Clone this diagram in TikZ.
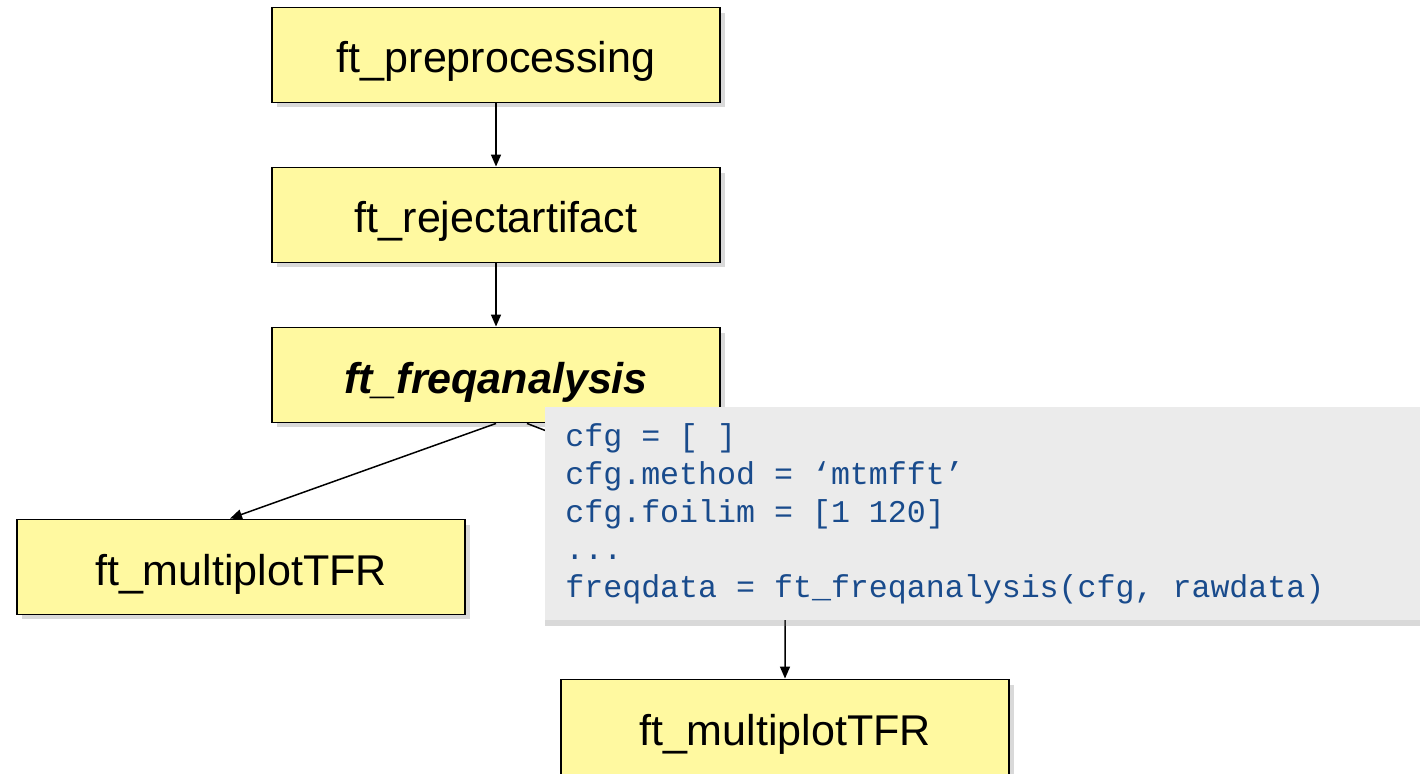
\documentclass[tikz,border=0pt]{standalone}
\usepackage{fontspec}
\setmainfont{Liberation Sans}
\setmonofont{Liberation Mono}
\usepackage{tikz}
\usetikzlibrary{arrows.meta,shadows}

\definecolor{boxyellow}{RGB}{255,249,160}
\definecolor{codegray}{RGB}{235,235,235}
\definecolor{codeblue}{RGB}{25,75,140}

\tikzset{
  ftbox/.style={draw=black, line width=1.1pt, fill=boxyellow,
    minimum width=8.96cm, minimum height=1.9cm,
    text height=0.72cm, text depth=0pt,
    font=\fontsize{24.5}{28}\selectfont,
    drop shadow={shadow xshift=0.1cm, shadow yshift=-0.1cm, opacity=0.3}},
  codebox/.style={fill=codegray, inner xsep=0.4cm, text width=16.7cm,
    minimum height=4.26cm, align=left, text=codeblue,
    font=\ttfamily\fontsize{18}{21.5}\selectfont,
    execute at begin node={\spaceskip=0pt\xspaceskip=0pt},
    drop shadow={shadow xshift=0cm, shadow yshift=-0.12cm, opacity=0.3}},
  flow/.style={line width=0.85pt, -{Triangle[length=0.24cm,width=0.2cm]}}
}

\begin{document}
\begin{tikzpicture}[x=0.02cm,y=-0.02cm]
\useasboundingbox (0,0) rectangle (1420,774);

\node[ftbox] (prep) at (496,55) {ft\_preprocessing};
\node[ftbox] (rej) at (496,215) {ft\_rejectartifact};
\node[ftbox, font=\fontsize{24.5}{28}\selectfont\bfseries\itshape] (freq) at (496,375) {ft\_freqanalysis};
\node[ftbox] (multl) at (241,567) {ft\_multiplotTFR};
\node[ftbox] (multr) at (785,727) {ft\_multiplotTFR};

\draw[flow] (prep) -- (rej);
\draw[flow] (rej) -- (freq);
\draw[flow] (freq.south) -- ([xshift=-0.22cm]multl.north);
% second branch runs behind the code panel
\draw[flow] ([xshift=0.62cm]freq.south) -- (785,523) -- (multr.north);

%\node[codebox] ... cfg panel on top
\node[codebox, anchor=north west] (cfgcode) at (545,407) {%
cfg = [ ]\\
cfg.method = ‘mtmfft’\\
cfg.foilim = [1 120]\\
...\\
freqdata = ft\_freqanalysis(cfg, rawdata)};

\end{tikzpicture}
\end{document}
